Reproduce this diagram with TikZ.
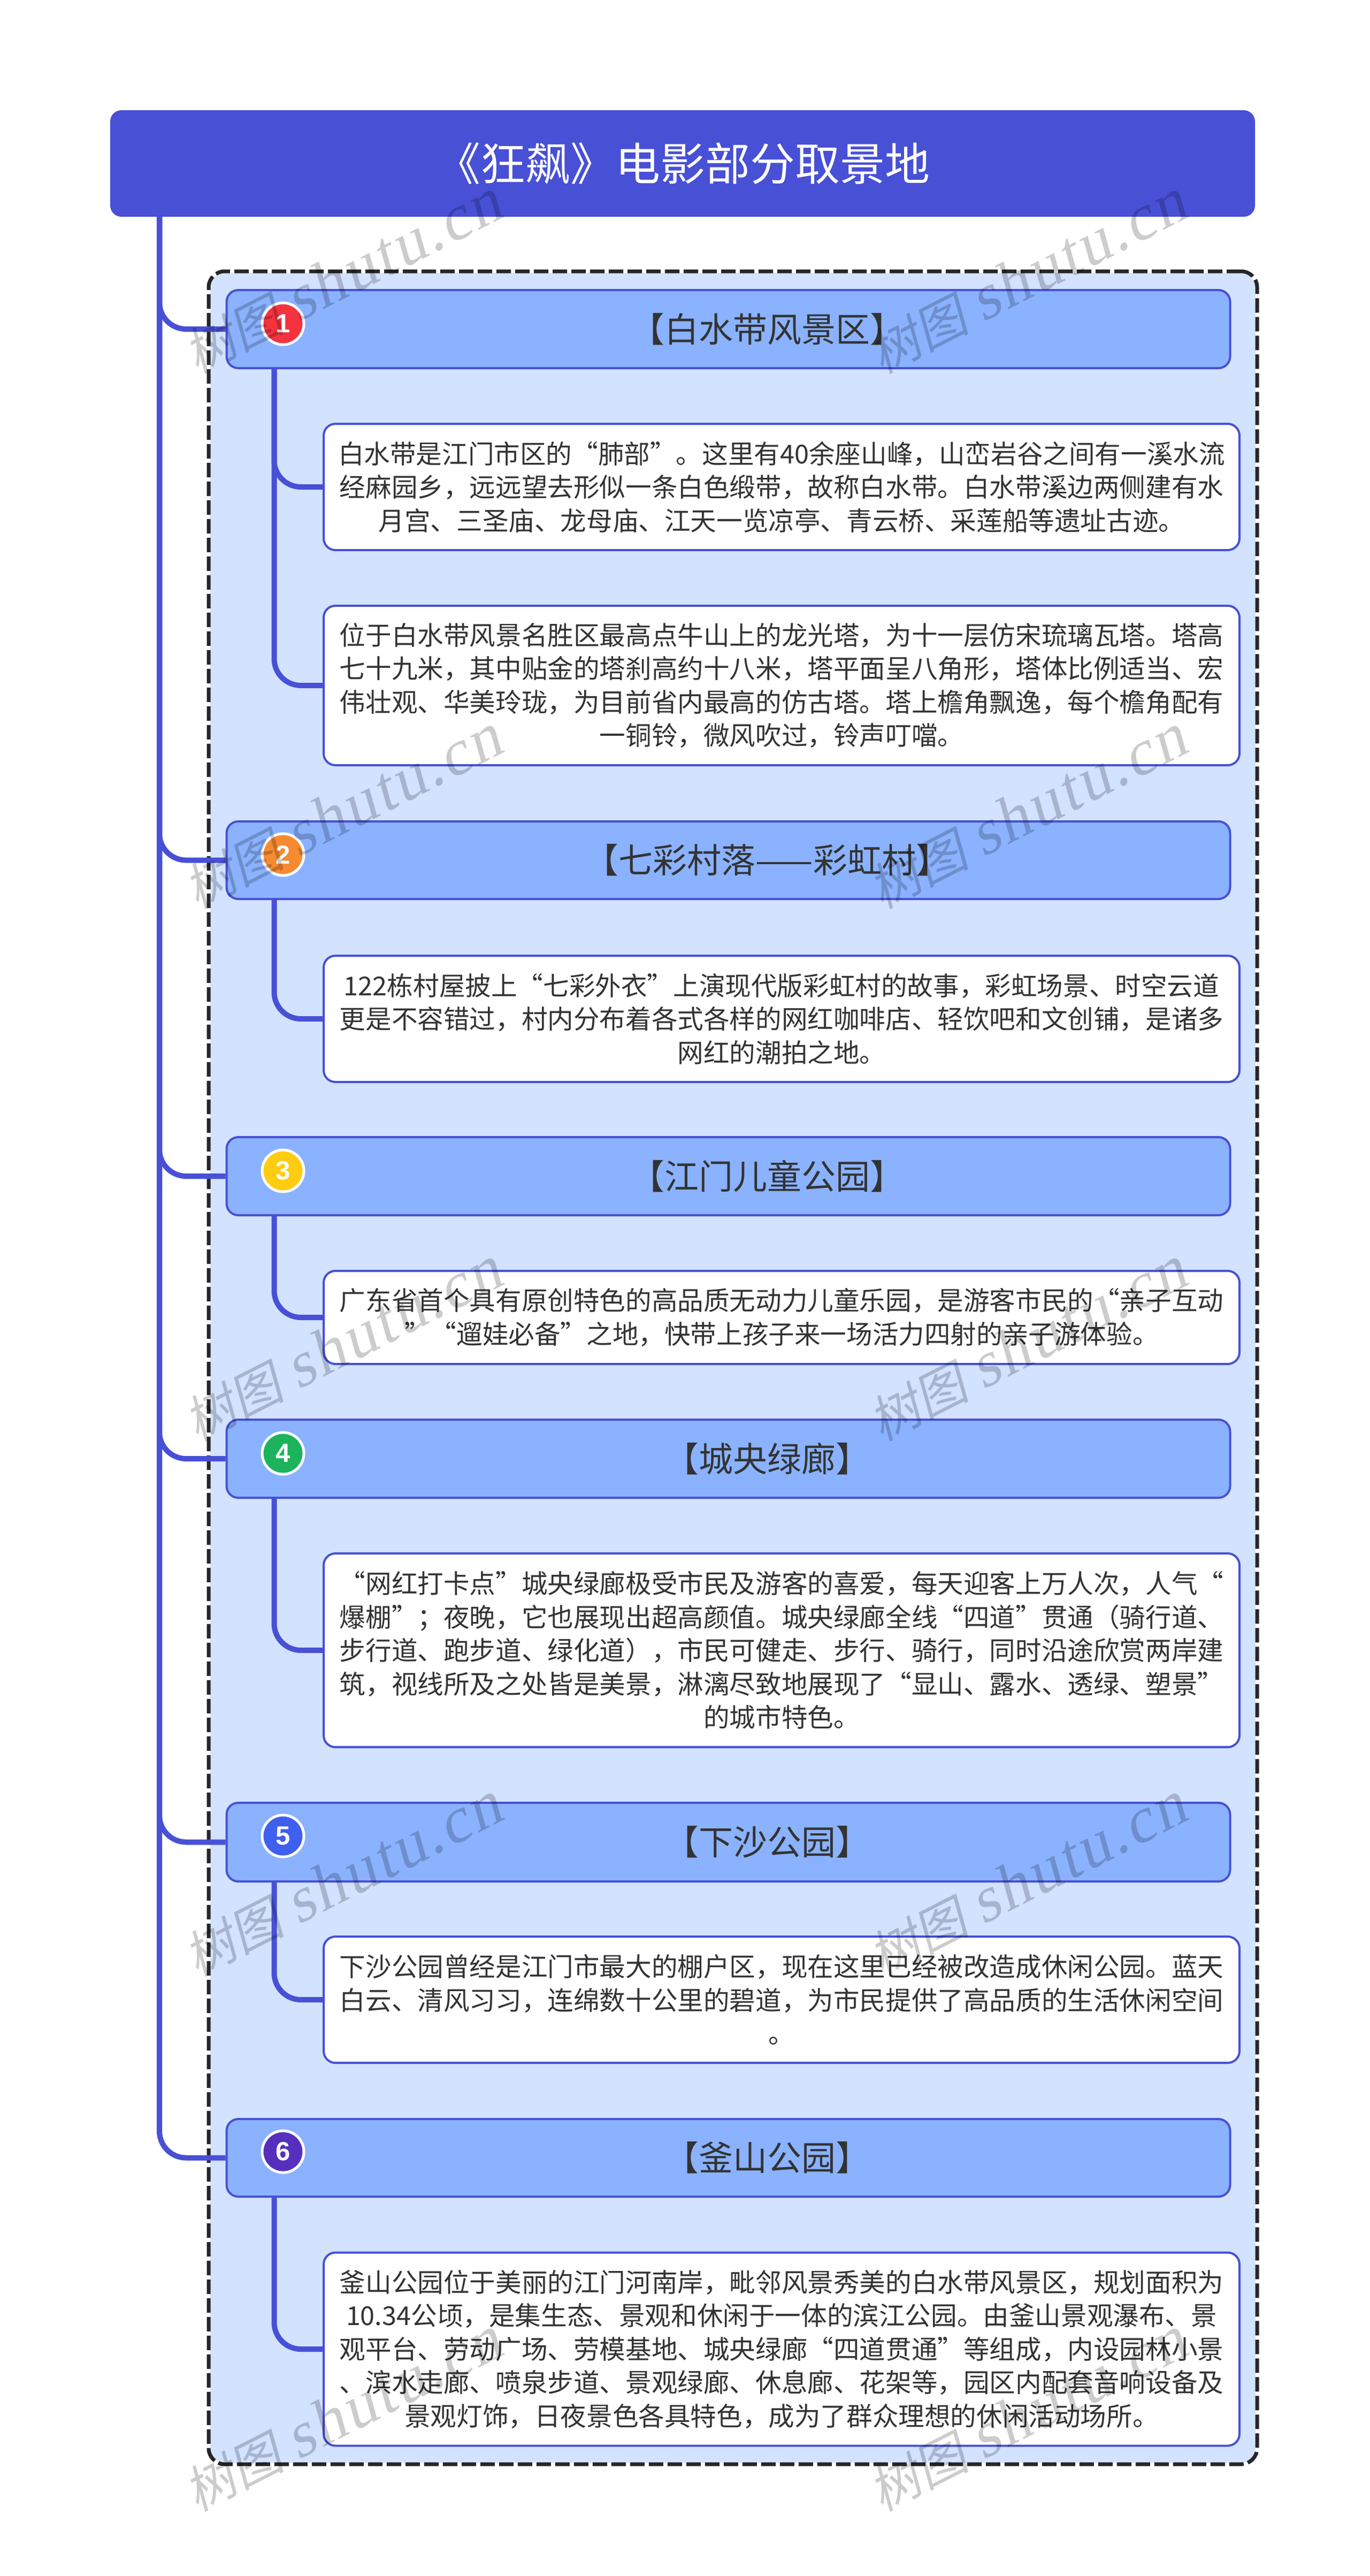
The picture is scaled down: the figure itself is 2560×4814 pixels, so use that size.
\documentclass[tikz,border=0pt]{standalone}
\usepackage{fontspec}
\setmainfont{Noto Sans CJK SC}
\newfontfamily\numfont{Liberation Sans}
\newfontfamily\markcjk[FakeSlant=.2]{Noto Sans CJK SC}
\newfontfamily\marklatin[FakeSlant=.2,LetterSpace=4]{Liberation Serif}
\definecolor{linkblue}{HTML}{4850D6}
\definecolor{secblue}{HTML}{8AB2FF}
\definecolor{paleblue}{HTML}{D2E2FF}
\definecolor{inktext}{HTML}{333333}
\definecolor{numred}{HTML}{F5333F}
\definecolor{numorange}{HTML}{F58A30}
\definecolor{numyellow}{HTML}{FFCC11}
\definecolor{numgreen}{HTML}{1DB35C}
\definecolor{numblue}{HTML}{3F5FEE}
\definecolor{numviolet}{HTML}{5530BE}
\newcommand{\markline}{{\markcjk\fontsize{47}{56}\selectfont 树图}\hspace{12pt}{\marklatin\fontsize{60}{70}\selectfont shutu.cn}}
\begin{document}
\begin{tikzpicture}[x=.5pt,y=-.5pt,
  titlebox/.style={draw=linkblue,fill=linkblue,line width=1pt,rounded corners=10pt,inner sep=0,text=white,font=\fontsize{42}{50}\selectfont},
  framefill/.style={fill=paleblue,rounded corners=14pt,inner sep=0},
  framebox/.style={draw=black!85,line width=3.5pt,dash pattern=on 13.5pt off 4pt,rounded corners=15pt,inner sep=0},
  secbox/.style={draw=linkblue,fill=secblue,line width=2pt,rounded corners=11pt,inner sep=0,minimum width=938pt,text=inktext,font=\fontsize{32}{38}\selectfont,execute at begin node=\hspace*{73pt}},
  leafbox/.style={draw=linkblue,fill=white,line width=2pt,rounded corners=11pt,inner sep=0,minimum width=856pt,align=center,text=inktext,font=\fontsize{24.3}{31.25}\selectfont},
  badge/.style={circle,draw=white,line width=2.5pt,inner sep=0,minimum size=39pt,text=white,font=\numfont\bfseries\fontsize{24.5}{28}\selectfont},
  link/.style={draw=linkblue,line width=5pt,rounded corners=25pt},
  wmark/.style={rotate=27,text=black,text opacity=.2,inner sep=0},
]
\useasboundingbox (0,0) rectangle (2560,4814);
\node[titlebox,minimum width=1069pt,minimum height=98.5pt] (title) at (1276,305.5) {《狂飙》电影部分取景地};
\node[framefill,minimum width=977pt,minimum height=2046pt] (framebg) at (1370,2556) {};
\node[framebox,minimum width=980pt,minimum height=2049pt] (frame) at (1370,2556) {};
% sections
\node[secbox,minimum height=73pt] (sec1) at (1361.5,615) {【白水带风景区】};
\node[secbox,minimum height=72.5pt] (sec2) at (1361.5,1607.5) {【七彩村落——彩虹村】};
\node[secbox,minimum height=73pt] (sec3) at (1361.5,2198) {【江门儿童公园】};
\node[secbox,minimum height=73pt] (sec4) at (1361.5,2726) {【城央绿廊】};
\node[secbox,minimum height=73.5pt] (sec5) at (1361.5,3442.5) {【下沙公园】};
\node[secbox,minimum height=72.5pt] (sec6) at (1361.5,4032.5) {【釜山公园】};
% leaves
\node[leafbox,minimum height=118pt] (leaf1) at (1461,910) {白水带是江门市区的“肺部”。这里有40余座山峰，山峦岩谷之间有一溪水流\\经麻园乡，远远望去形似一条白色缎带，故称白水带。白水带溪边两侧建有水\\月宫、三圣庙、龙母庙、江天一览凉亭、青云桥、采莲船等遗址古迹。};
\node[leafbox,minimum height=149pt] (leaf2) at (1461,1281) {位于白水带风景名胜区最高点牛山上的龙光塔，为十一层仿宋琉璃瓦塔。塔高\\七十九米，其中贴金的塔刹高约十八米，塔平面呈八角形，塔体比例适当、宏\\伟壮观、华美玲珑，为目前省内最高的仿古塔。塔上檐角飘逸，每个檐角配有\\一铜铃，微风吹过，铃声叮噹。};
\node[leafbox,minimum height=118pt] (leaf3) at (1461,1904) {122栋村屋披上“七彩外衣”上演现代版彩虹村的故事，彩虹场景、时空云道\\更是不容错过，村内分布着各式各样的网红咖啡店、轻饮吧和文创铺，是诸多\\网红的潮拍之地。};
\node[leafbox,minimum height=87pt] (leaf4) at (1461,2462) {广东省首个具有原创特色的高品质无动力儿童乐园，是游客市民的“亲子互动\\”“遛娃必备”之地，快带上孩子来一场活力四射的亲子游体验。};
\node[leafbox,minimum height=181pt] (leaf5) at (1461,3084) {“网红打卡点”城央绿廊极受市民及游客的喜爱，每天迎客上万人次，人气“\\爆棚”；夜晚，它也展现出超高颜值。城央绿廊全线“四道”贯通（骑行道、\\步行道、跑步道、绿化道），市民可健走、步行、骑行，同时沿途欣赏两岸建\\筑，视线所及之处皆是美景，淋漓尽致地展现了“显山、露水、透绿、塑景”\\的城市特色。};
\node[leafbox,minimum height=118pt] (leaf6) at (1461,3737) {下沙公园曾经是江门市最大的棚户区，现在这里已经被改造成休闲公园。蓝天\\白云、清风习习，连绵数十公里的碧道，为市民提供了高品质的生活休闲空间\\。};
\node[leafbox,minimum height=180.5pt] (leaf7) at (1461,4390) {釜山公园位于美丽的江门河南岸，毗邻风景秀美的白水带风景区，规划面积为\\10.34公顷，是集生态、景观和休闲于一体的滨江公园。由釜山景观瀑布、景\\观平台、劳动广场、劳模基地、城央绿廊“四道贯通”等组成，内设园林小景\\、滨水走廊、喷泉步道、景观绿廊、休息廊、花架等，园区内配套音响设备及\\景观灯饰，日夜景色各具特色，成为了群众理想的休闲活动场所。};
% connectors
\draw[link] ([xshift=46pt]title.south west) |- (sec6.west);
\draw[link] ([xshift=46pt]title.south west) |- (sec1.west);
\draw[link] ([xshift=46pt]title.south west) |- (sec2.west);
\draw[link] ([xshift=46pt]title.south west) |- (sec3.west);
\draw[link] ([xshift=46pt]title.south west) |- (sec4.west);
\draw[link] ([xshift=46pt]title.south west) |- (sec5.west);
\draw[link] ([xshift=45.5pt]sec1.south west) |- (leaf1.west);
\draw[link] ([xshift=45.5pt]sec1.south west) |- (leaf2.west);
\draw[link] ([xshift=45.5pt]sec2.south west) |- (leaf3.west);
\draw[link] ([xshift=45.5pt]sec3.south west) |- (leaf4.west);
\draw[link] ([xshift=45.5pt]sec4.south west) |- (leaf5.west);
\draw[link] ([xshift=45.5pt]sec5.south west) |- (leaf6.west);
\draw[link] ([xshift=45.5pt]sec6.south west) |- (leaf7.west);
% badges
\node[badge,fill=numred] (num1) at (529,605) {1};
\node[badge,fill=numorange] (num2) at (529,1597) {2};
\node[badge,fill=numyellow] (num3) at (529,2188) {3};
\node[badge,fill=numgreen] (num4) at (529,2716) {4};
\node[badge,fill=numblue] (num5) at (529,3431) {5};
\node[badge,fill=numviolet] (num6) at (529,4021) {6};
% watermark
\node[wmark] (mark1) at (640,518) {\markline};
\node[wmark] (mark2) at (1920,518) {\markline};
\node[wmark] (mark3) at (640,1518) {\markline};
\node[wmark] (mark4) at (1920,1518) {\markline};
\node[wmark] (mark5) at (640,2513) {\markline};
\node[wmark] (mark6) at (1920,2513) {\markline};
\node[wmark] (mark7) at (640,3513) {\markline};
\node[wmark] (mark8) at (1920,3513) {\markline};
\node[wmark] (mark9) at (640,4513) {\markline};
\node[wmark] (mark10) at (1920,4513) {\markline};
\end{tikzpicture}
\end{document}
